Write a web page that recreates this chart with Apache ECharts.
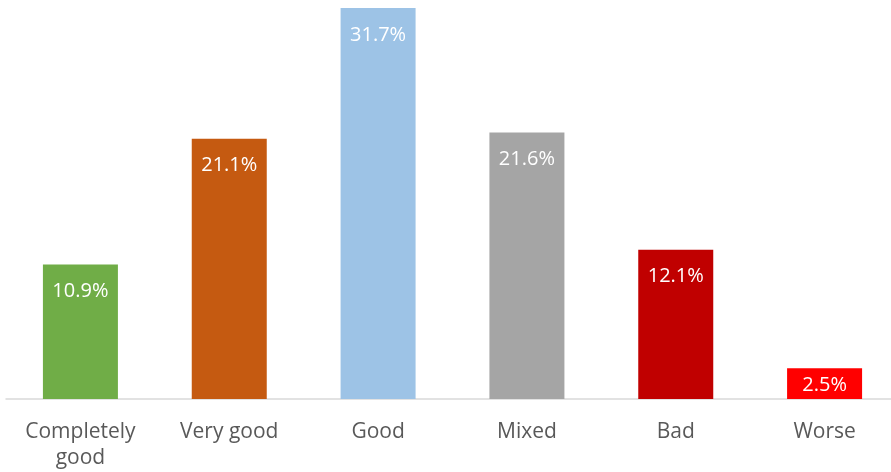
<!DOCTYPE html>
<html><head><meta charset="utf-8">
<script src="https://cdn.jsdelivr.net/npm/echarts@6/dist/echarts.min.js"></script>
<style>html,body{margin:0;padding:0;background:#fff;overflow:hidden}#c{width:899px;height:472px}</style>
</head><body><div id="c"></div>
<script>
const categories = ["Completely\ngood", "Very good", "Good", "Mixed", "Bad", "Worse"];
const values = [10.9, 21.1, 31.7, 21.6, 12.1, 2.5];
const colors = ["#70ad47", "#c55a11", "#9dc3e6", "#a5a5a5", "#c00000", "#ff0000"];
const font = "'Open Sans', 'Noto Sans', sans-serif";
const chart = echarts.init(document.getElementById('c'));
chart.setOption({
  animation: false,
  grid: { left: 6, right: 0, top: 8, bottom: 73, containLabel: false },
  xAxis: {
    type: 'category', data: categories,
    axisLine: { lineStyle: { color: '#d9d9d9', width: 1.5 } },
    axisTick: { show: false },
    axisLabel: { color: '#595959', fontSize: 21, fontFamily: font, margin: 20, lineHeight: 26, interval: 0 }
  },
  yAxis: { type: 'value', min: 0, max: 31.7, show: false, splitLine: { show: false } },
  series: [{
    type: 'bar', barWidth: 75, clip: false,
    data: values.map((v, i) => ({ value: v, itemStyle: { color: colors[i] },
      label: v < 5 ? { distance: 7 } : undefined })),
    label: { show: true, position: 'insideTop', distance: 17, color: '#fff', fontSize: 20, fontFamily: font,
      formatter: p => p.value.toFixed(1) + '%' }
  }]
});
</script></body></html>
